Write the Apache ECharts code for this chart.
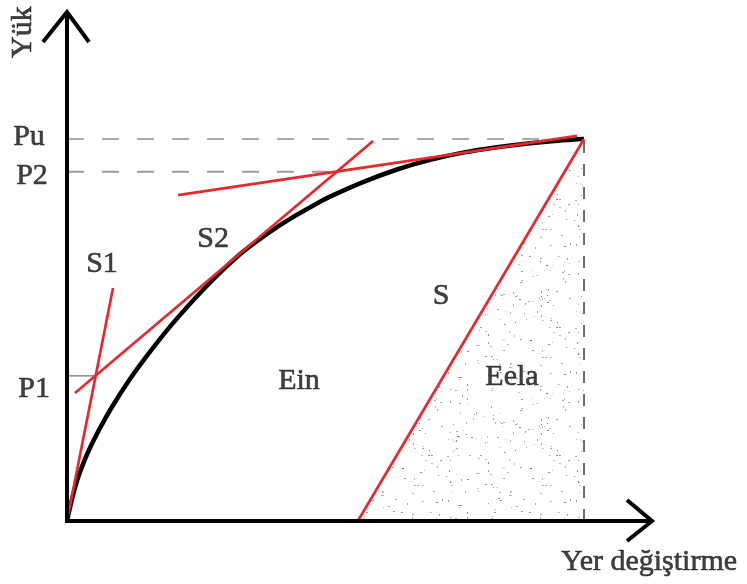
<!DOCTYPE html>
<html>
<head>
<meta charset="utf-8">
<script src="https://cdn.jsdelivr.net/npm/echarts@6/dist/echarts.min.js"></script>
<style>
  html, body { margin: 0; padding: 0; background: #ffffff; }
  #chart { width: 747px; height: 584px; }
</style>
</head>
<body>
<div id="chart"></div>
<script>
// Load–displacement curve, normalised so that δu = 40 and Pu = 100
const displacement = [0, 0.39, 0.77, 1.24, 1.78, 2.48, 3.48, 4.87, 6.19, 8.2, 10.83, 13.38, 15.47, 17.25, 19.34, 20.35, 22.9, 25.53, 28.09, 30.64, 33.27, 35.82, 38.38, 40];
const load         = [0, 5.76, 10.47, 14.87, 19.16, 23.87, 29.84, 37.15, 43.3, 51.81, 61.6, 69.82, 75.13, 79.11, 83.14, 84.92, 88.72, 92.02, 94.53, 96.44, 97.85, 98.9, 99.69, 100];

// Characteristic load levels and ultimate displacement
const Pu = 100;
const P2 = 91.4;
const P1 = 38;
const du = 40;

// Straight lines as [displacement, load] end points
const lineS1 = [[0, 0], [3.56, 61]];           // initial stiffness
const lineS2 = [[0.62, 33.5], [23.68, 99.5]];  // secant through P1
const lineT2 = [[8.59, 85.3], [39.46, 100.8]]; // tangent near the top
const lineS  = [[22.5, 0], [40, 100]];         // unloading stiffness
const p2End  = 20.8;                           // where the P2 level meets the tangents
const p1End  = 2.2;                            // where the P1 level meets S1 / S2

// Axis extents (arrow tips)
const xMax = 45.26;
const yMax = 133.25;

// Text annotations
const labelTexts = ['Pu', 'P2', 'P1', 'Yük', 'S1', 'S2', 'S', 'Ein', 'Eela', 'Yer değiştirme'];
const labelAt = [
  [-2.94, 100.5], [-2.71, 90.3], [-2.55, 34.6], [-3.4, 128.0],
  [2.71, 67.3], [11.3, 73.8], [28.94, 58.9], [17.95, 36.6], [34.43, 37.7], [45.03, -10.7]
];
const labelRotate = [0, 0, 0, 90, 0, 0, 0, 0, 0, 0];

const RED = '#e8282d';
const FONT = '"Liberation Serif", "DejaVu Serif", serif';

// Speckled texture for the elastic energy region
function speckleTile() {
  const size = 128;
  const c = document.createElement('canvas');
  c.width = size; c.height = size;
  const ctx = c.getContext('2d');
  let s = 987654;
  const next = () => { s = (s * 1103515245 + 12345) & 0x7fffffff; return s / 0x7fffffff; };
  for (let i = 0; i < 190; i++) {
    const x = Math.floor(next() * size), y = Math.floor(next() * size);
    const g = Math.round(100 + next() * 80);
    ctx.fillStyle = 'rgba(' + g + ',' + g + ',' + g + ',' + (0.55 + next() * 0.4).toFixed(2) + ')';
    const r = next();
    const w = r < 0.4 ? 2 : 1;
    const h = r > 0.7 ? 2 : 1;
    ctx.fillRect(x, y, w, h);
  }
  return c;
}

const curve = displacement.map((d, i) => [d, load[i]]);

const chart = echarts.init(document.getElementById('chart'), null, { renderer: 'canvas' });

function straight(data, color, width, type, z) {
  return {
    type: 'line', data: data, showSymbol: false, silent: true, clip: false, z: z,
    lineStyle: { color: color, width: width, type: type }
  };
}

chart.setOption({
  animation: false,
  backgroundColor: '#ffffff',
  grid: { left: 67, right: 95, top: 12, bottom: 63 },
  xAxis: { type: 'value', min: 0, max: xMax, show: false },
  yAxis: { type: 'value', min: 0, max: yMax, show: false },
  series: [
    // elastic energy region below the unloading line
    {
      type: 'line', data: lineS, showSymbol: false, silent: true, z: 1,
      lineStyle: { width: 0, opacity: 0 },
      areaStyle: { color: { image: speckleTile(), repeat: 'repeat' }, opacity: 1 }
    },
    // reference levels
    straight([[0, Pu], [du, Pu]], '#ababab', 2, [17, 18], 2),
    straight([[0, P2], [p2End, P2]], '#9c9c9c', 2, [17, 18], 2),
    straight([[0, P1], [p1End, P1]], '#8a8a8a', 1.5, 'solid', 2),
    straight([[du, 0], [du, Pu]], '#6f6f6f', 2, [12, 11], 2),
    // load–displacement curve
    {
      type: 'line', data: curve, smooth: 0.3, showSymbol: false, silent: true, z: 3,
      lineStyle: { color: '#000000', width: 4.5, join: 'round' }
    },
    // stiffness lines
    straight(lineS1, RED, 2.7, 'solid', 4),
    straight(lineS2, RED, 2.7, 'solid', 4),
    straight(lineT2, RED, 2.7, 'solid', 4),
    straight(lineS, RED, 2.7, 'solid', 4),
    // axes with open arrow heads
    {
      type: 'custom', silent: true, clip: false, z: 5,
      data: [[0, 0]],
      renderItem: function (params, api) {
        const o = api.coord([0, 0]);
        const xe = api.coord([xMax, 0]);
        const ye = api.coord([0, yMax]);
        const st = { stroke: '#000000', lineWidth: 4, fill: null, lineJoin: 'miter', lineCap: 'butt' };
        return {
          type: 'group',
          children: [
            { type: 'polyline', shape: { points: [[o[0] - 2, o[1]], [xe[0], xe[1]]] }, style: st },
            { type: 'polyline', shape: { points: [[o[0], o[1] + 2], [ye[0], ye[1]]] }, style: st },
            { type: 'polyline', shape: { points: [[xe[0] - 25, xe[1] - 21], [xe[0], xe[1]], [xe[0] - 25, xe[1] + 20]] }, style: st },
            { type: 'polyline', shape: { points: [[ye[0] - 24, ye[1] + 30], [ye[0], ye[1]], [ye[0] + 22, ye[1] + 30]] }, style: st }
          ]
        };
      }
    },
    // annotation texts
    {
      type: 'scatter', silent: true, clip: false, z: 6,
      symbolSize: 0,
      data: labelTexts.map((t, i) => ({
        value: labelAt[i],
        label: {
          show: true, formatter: t, position: 'inside', rotate: labelRotate[i],
          align: 'center', verticalAlign: 'middle',
          color: '#111111', fontFamily: FONT, fontSize: 30,
          textBorderColor: '#111111', textBorderWidth: 0.6
        }
      }))
    }
  ]
});
</script>
</body>
</html>
